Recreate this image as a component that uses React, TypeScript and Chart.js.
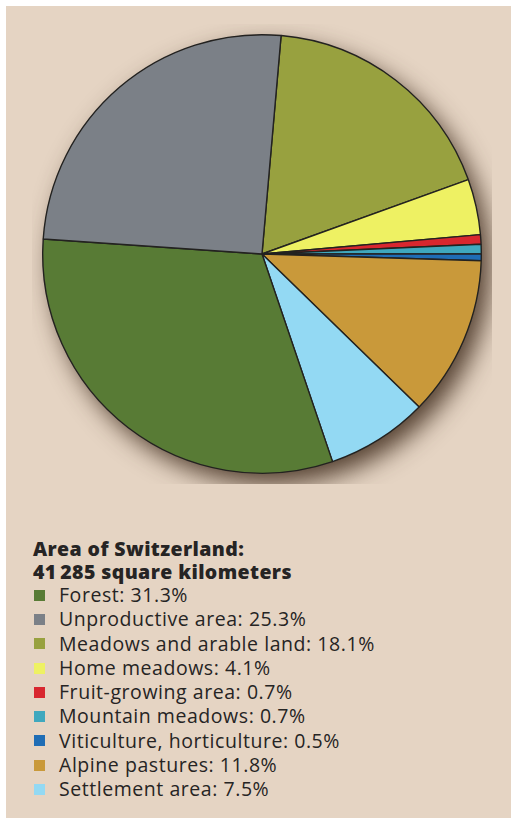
import React, { useEffect, useRef } from "react";
import { Chart, registerables } from "chart.js";

Chart.register(...registerables);

const categories = [
  "Meadows and arable land",
  "Home meadows",
  "Fruit-growing area",
  "Mountain meadows",
  "Viticulture, horticulture",
  "Alpine pastures",
  "Settlement area",
  "Forest",
  "Unproductive area",
];
const values = [18.1, 4.1, 0.7, 0.7, 0.5, 11.8, 7.5, 31.3, 25.3];
const colors = [
  "#98a13f",
  "#eef163",
  "#d8272f",
  "#3fa8be",
  "#1f6db5",
  "#c9993a",
  "#93d9f3",
  "#587b35",
  "#7b8087",
];

const legendOrder = [7, 8, 0, 1, 2, 3, 4, 5, 6];
const titleLines = ["Area of Switzerland:", "41\u2009285 square kilometers"];

const shadowPlugin = {
  id: "pieShadow",
  beforeDatasetsDraw(chart: any) {
    const meta = chart.getDatasetMeta(0);
    const arc = meta.data[0];
    if (!arc) return;
    const { x, y, outerRadius } = arc.getProps(["x", "y", "outerRadius"], true);
    const ctx = chart.ctx;
    ctx.save();
    ctx.shadowColor = "rgba(60,40,25,0.85)";
    ctx.shadowBlur = 24;
    ctx.shadowOffsetX = 9;
    ctx.shadowOffsetY = 11;
    ctx.fillStyle = "#6a5a4a";
    ctx.beginPath();
    ctx.arc(x, y, outerRadius, 0, Math.PI * 2);
    ctx.fill();
    ctx.restore();
  },
};

export default function App() {
  const ref = useRef<HTMLCanvasElement>(null);
  useEffect(() => {
    const chart = new Chart(ref.current!, {
      type: "pie",
      data: {
        labels: categories,
        datasets: [
          {
            data: values,
            backgroundColor: colors,
            borderColor: "#232220",
            borderWidth: 1.4,
          },
        ],
      },
      options: {
        animation: false,
        responsive: false,
        rotation: 5,
        layout: { padding: 10 },
        plugins: {
          legend: { display: false },
          tooltip: { enabled: false },
        },
      },
      plugins: [shadowPlugin],
    });
    return () => chart.destroy();
  }, []);

  const font = "'Open Sans', Lato, sans-serif";
  return (
    <div
      style={{
        position: "absolute",
        left: 6,
        top: 6,
        width: 505,
        height: 812,
        background: "#e5d4c3",
        fontFamily: font,
        color: "#262424",
      }}
    >
      <canvas
        ref={ref}
        width={460}
        height={460}
        style={{ position: "absolute", left: 26, top: 18, width: 460, height: 460 }}
      />
      <div style={{ position: "absolute", left: 27, top: 532 }}>
        {titleLines.map((t, i) => (
          <div
            key={i}
            style={{ fontWeight: 800, fontSize: 19.5, letterSpacing: 0.4, lineHeight: "22.5px", whiteSpace: "nowrap" }}
          >
            {t}
          </div>
        ))}
        {legendOrder.map((idx) => (
          <div
            key={idx}
            style={{
              display: "flex",
              alignItems: "center",
              fontSize: 19.5,
              letterSpacing: 0.55,
              lineHeight: "24.3px",
              whiteSpace: "nowrap",
            }}
          >
            <span
              style={{
                display: "inline-block",
                width: 11,
                height: 11,
                background: colors[idx],
                marginLeft: 1,
                marginRight: 14,
              }}
            />
            <span>
              {categories[idx]}: {values[idx].toFixed(1)}%
            </span>
          </div>
        ))}
      </div>
    </div>
  );
}
